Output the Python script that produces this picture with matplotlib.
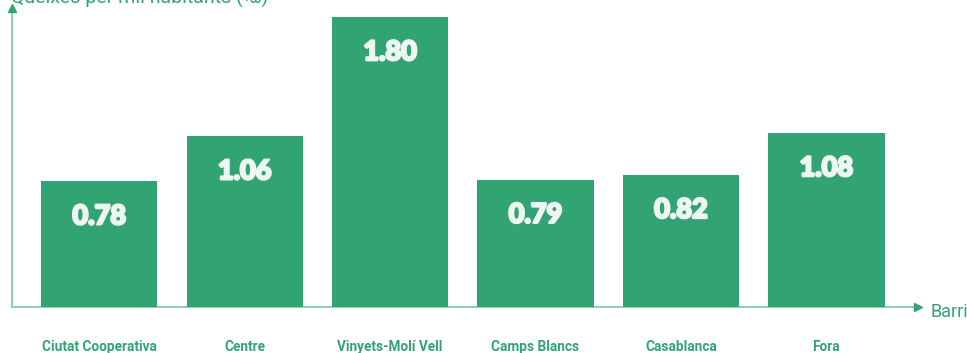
import matplotlib
matplotlib.use('Agg')
import matplotlib.pyplot as plt
import matplotlib.patheffects as pe

barris = ['Ciutat Cooperativa', 'Centre', 'Vinyets-Molí Vell',
          'Camps Blancs', 'Casablanca', 'Fora']
queixes = [0.78, 1.06, 1.80, 0.79, 0.82, 1.08]

green = '#32a373'
axis_green = '#86cdaa'
label_white = '#eef6f1'

fig = plt.figure(figsize=(9.67, 3.53), dpi=100, facecolor='white')
W, H = 967, 353
ax = fig.add_axes([12 / W, 46 / H, (918 - 12) / W, (307 - 8) / H])

x = range(len(barris))
bars = ax.bar(x, queixes, width=0.8, color=green, zorder=2)

ax.set_xlim(-0.6, 5.63)
ax.set_ylim(0, 1.857)

# values inside the bars, a fixed distance below the top
heavy = [pe.withStroke(linewidth=1.7, foreground=label_white)]
for b, v in zip(bars, queixes):
    ax.annotate(f'{v:.2f}', (b.get_x() + b.get_width() / 2, v),
                xytext=(0, -35), textcoords='offset pixels',
                ha='center', va='center', color=label_white,
                fontsize=19.5, fontweight='black', family='Lato',
                path_effects=heavy)

for spine in ax.spines.values():
    spine.set_visible(False)
ax.set_xticks([])
ax.set_yticks([])

# axis lines with arrowheads
ax.plot([0, 1], [0, 0], transform=ax.transAxes, color=axis_green, lw=1.3,
        clip_on=False, zorder=1)
ax.plot([0, 0], [0, 1], transform=ax.transAxes, color=axis_green, lw=1.3,
        clip_on=False, zorder=1)
ax.plot(1, 0, marker='>', ms=6, color=green, transform=ax.transAxes, clip_on=False)
ax.plot(0, 1, marker='^', ms=6, color=green, transform=ax.transAxes, clip_on=False)

# category names under the axis
name_y = -(347 - 307) / (307 - 8)
for i, name in enumerate(barris):
    ax.text(i, name_y, name, transform=ax.get_xaxis_transform(), ha='center',
            va='center', color=green, fontsize=9.8, fontweight='bold',
            family='Roboto')

fig.text(931 / W, 1 - 312 / H, 'Barri', ha='left', va='center',
         color=green, fontsize=13, family='Roboto')
fig.text(11 / W, 1 - 4 / H, 'Queixes per mil habitants (‰)', ha='left',
         va='baseline', color=green, fontsize=14, family='Roboto')

fig.savefig('out.png', dpi=100, facecolor='white')
